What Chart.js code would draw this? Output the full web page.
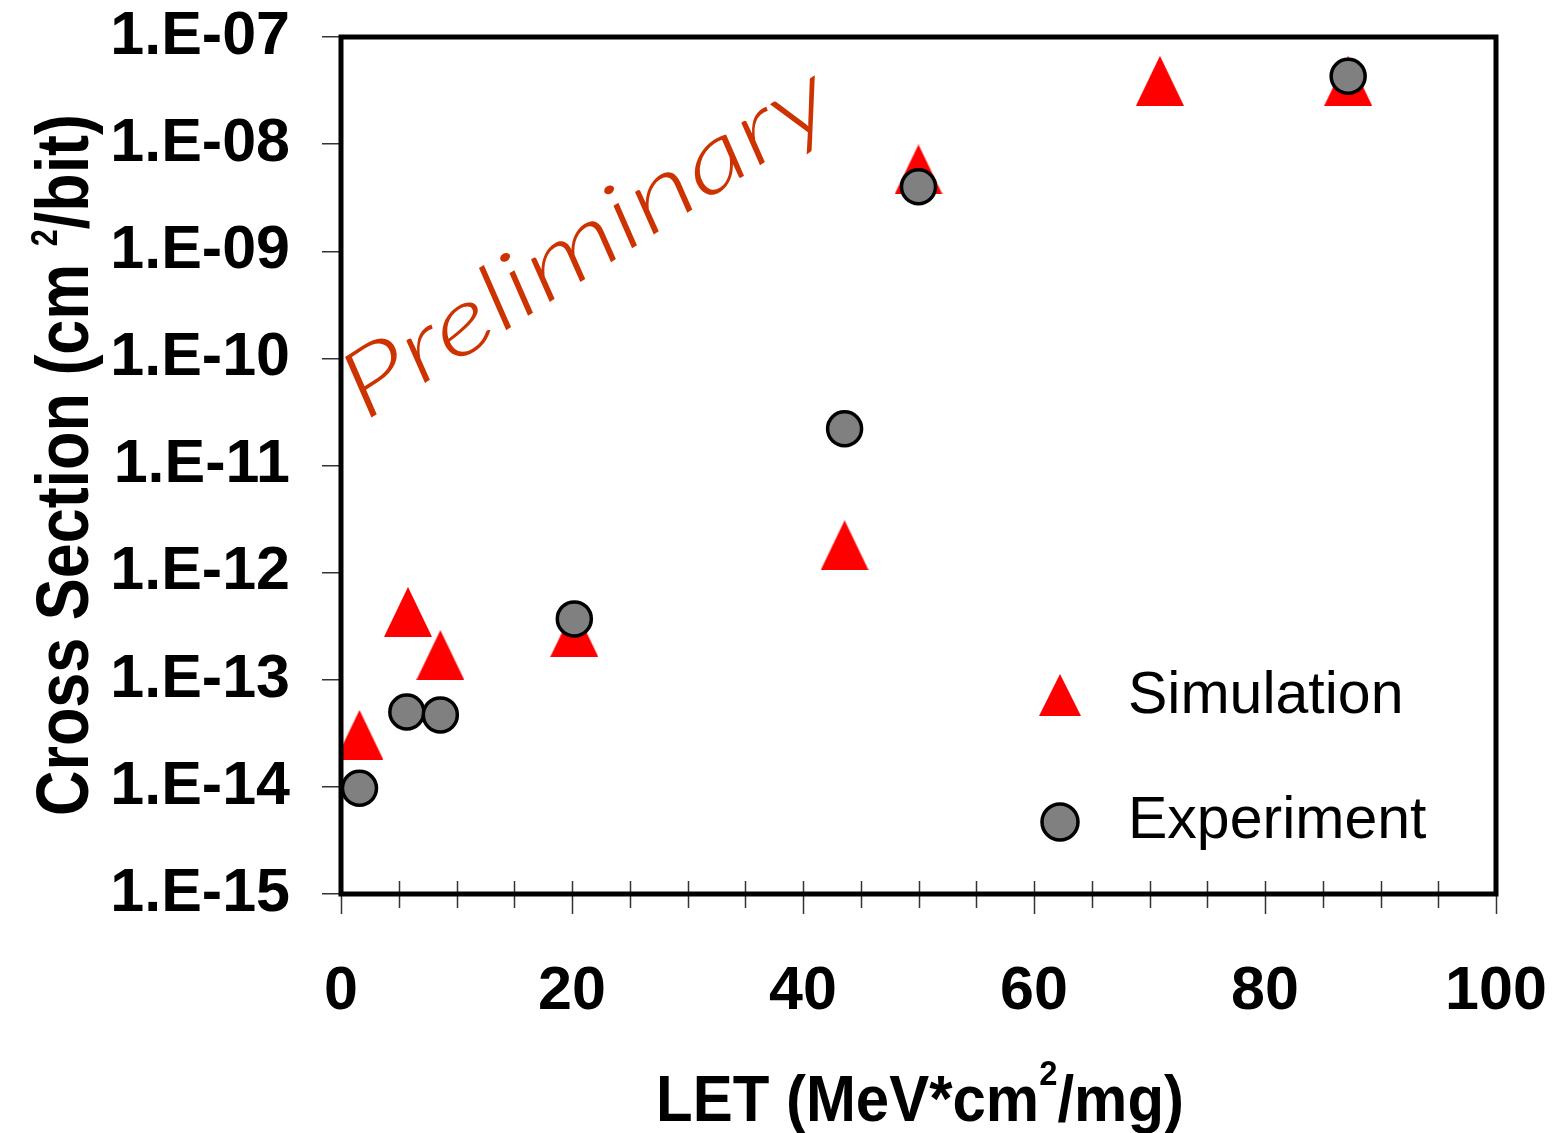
<!DOCTYPE html>
<html>
<head>
<meta charset="utf-8">
<script src="https://cdn.jsdelivr.net/npm/chart.js@4"></script>
<style>
  html, body { margin: 0; padding: 0; background: #fff; }
</style>
</head>
<body>
<canvas id="myChart" width="1558" height="1133"></canvas>
<script>
// LET values (MeV*cm2/mg) and cross sections (cm2/bit)
const simLet = [1.6, 5.8, 8.6, 20.2, 43.6, 50.0, 70.9, 87.2];
const simSigma = [3.05e-14, 4.3e-13, 1.7e-13, 2.8e-13, 1.8e-12, 5.8e-9, 3.9e-8, 3.9e-8];
const expLet = [1.6, 5.7, 8.6, 20.2, 43.6, 50.0, 87.2];
const expSigma = [9.7e-15, 5.0e-14, 4.7e-14, 3.7e-13, 2.2e-11, 4.0e-9, 4.3e-8];

const yTickValues = [1e-15, 1e-14, 1e-13, 1e-12, 1e-11, 1e-10, 1e-9, 1e-8, 1e-7];
const yTickLabels = ["1.E-15", "1.E-14", "1.E-13", "1.E-12", "1.E-11", "1.E-10", "1.E-09", "1.E-08", "1.E-07"];

const FONT = "'Liberation Sans', Arial, sans-serif";
Chart.defaults.font.family = FONT;
Chart.defaults.color = "#000";

function makeTriangle(w, h, color) {
  const c = document.createElement("canvas");
  c.width = w;
  c.height = h;
  const g = c.getContext("2d");
  g.fillStyle = color;
  g.beginPath();
  g.moveTo(w / 2, 0);
  g.lineTo(w, h);
  g.lineTo(0, h);
  g.closePath();
  g.fill();
  return c;
}
const triangle = makeTriangle(48, 50, "#FF0000");
const legendTriangle = makeTriangle(42, 42, "#FF0000");

// draws a title made of parts, some of them superscript, squeezed to a given length
function drawParts(ctx, parts, size, supSize, raise, length) {
  const mainFont = "bold " + size + "px " + FONT;
  const supFont = "bold " + supSize + "px " + FONT;
  let total = 0;
  parts.forEach(p => {
    ctx.font = p.sup ? supFont : mainFont;
    p.w = ctx.measureText(p.t).width;
    total += p.w;
  });
  ctx.scale(length / total, 1);
  let x = 0;
  parts.forEach(p => {
    ctx.font = p.sup ? supFont : mainFont;
    ctx.fillText(p.t, x, p.sup ? -raise : 0);
    x += p.w;
  });
}

const decor = {
  id: "decor",
  afterDatasetsDraw(chart) {
    const { ctx, chartArea: a, scales } = chart;
    ctx.save();
    // x tick marks crossing the axis
    ctx.strokeStyle = "#333";
    ctx.lineWidth = 1.5;
    for (let v = 0; v <= 100; v += 5) {
      const px = Math.round(scales.x.getPixelForValue(v)) + 0.5;
      ctx.beginPath();
      ctx.moveTo(px, a.bottom - 13);
      ctx.lineTo(px, a.bottom + (v % 20 === 0 ? 20 : 14));
      ctx.stroke();
    }
    // frame
    ctx.strokeStyle = "#000";
    ctx.lineWidth = 5;
    ctx.strokeRect(a.left, a.top, a.right - a.left, a.bottom - a.top);

    // legend
    ctx.drawImage(legendTriangle, 1060 - 21, 695 - 21);
    ctx.beginPath();
    ctx.arc(1060, 822, 18, 0, Math.PI * 2);
    ctx.fillStyle = "#808080";
    ctx.fill();
    ctx.lineWidth = 3.5;
    ctx.strokeStyle = "#000";
    ctx.stroke();
    ctx.fillStyle = "#000";
    ctx.font = "59px " + FONT;
    ctx.textAlign = "left";
    ctx.textBaseline = "alphabetic";
    ctx.fillText("Simulation", 1128, 713);
    ctx.fillText("Experiment", 1128, 838);

    // axis titles
    ctx.save();
    ctx.translate(656, 1121);
    drawParts(ctx, [{ t: "LET (MeV*cm" }, { t: "2", sup: true }, { t: "/mg)" }], 64, 35, 36, 528);
    ctx.restore();
    ctx.save();
    ctx.translate(88, 816);
    ctx.rotate(-Math.PI / 2);
    drawParts(ctx, [{ t: "Cross Section (cm " }, { t: "2", sup: true }, { t: "/bit)" }], 74, 36, 31, 702);
    ctx.restore();

    // handwritten note
    ctx.save();
    ctx.translate(602, 268);
    ctx.rotate(-33 * Math.PI / 180);
    ctx.font = "italic 300 92px Lato, 'DejaVu Sans', sans-serif";
    const txt = "Preliminary";
    const w = ctx.measureText(txt).width;
    ctx.scale(565 / w, 1);
    ctx.fillStyle = "#CC3300";
    ctx.textAlign = "center";
    ctx.fillText(txt, 0, 0);
    ctx.restore();

    ctx.restore();
  },
};

new Chart(document.getElementById("myChart"), {
  type: "scatter",
  data: {
    datasets: [
      {
        label: "Simulation",
        data: simLet.map((x, i) => ({ x: x, y: simSigma[i] })),
        pointStyle: triangle,
        order: 1,
      },
      {
        label: "Experiment",
        data: expLet.map((x, i) => ({ x: x, y: expSigma[i] })),
        pointStyle: "circle",
        pointRadius: 17,
        backgroundColor: "#808080",
        borderColor: "#000",
        borderWidth: 3.5,
        order: 0,
      },
    ],
  },
  options: {
    responsive: false,
    animation: false,
    layout: { padding: { top: 37, right: 62, left: 0, bottom: 0 } },
    plugins: {
      legend: { display: false },
      tooltip: { enabled: false },
    },
    scales: {
      x: {
        type: "linear",
        min: 0,
        max: 100,
        ticks: {
          stepSize: 20,
          padding: 62,
          font: { size: 61, weight: "bold" },
          color: "#000",
        },
        grid: { display: false, drawTicks: false },
        border: { display: false },
        afterFit: s => {
          s.height = 239;
          s.paddingLeft = 0;
          s.paddingRight = 0;
        },
      },
      y: {
        type: "logarithmic",
        min: 1e-15,
        max: 1e-7,
        afterBuildTicks: s => { s.ticks = yTickValues.map(v => ({ value: v })); },
        ticks: {
          padding: 32,
          font: { size: 61, weight: "bold", lineHeight: 1 },
          color: "#000",
          callback: (v) => yTickLabels[yTickValues.findIndex(t => Math.abs(Math.log10(t) - Math.log10(v)) < 1e-6)],
        },
        grid: { drawOnChartArea: false, tickLength: 19, color: "#333", lineWidth: 1.5 },
        border: { display: false },
        afterFit: s => {
          s.width = 341;
          s.paddingTop = 0;
          s.paddingBottom = 0;
        },
      },
    },
  },
  plugins: [decor],
});
</script>
</body>
</html>
